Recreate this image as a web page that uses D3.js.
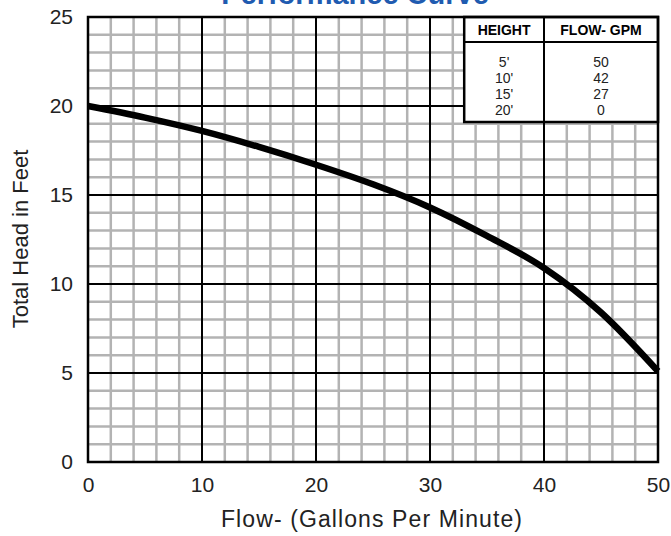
<!DOCTYPE html>
<html>
<head>
<meta charset="utf-8">
<script src="https://cdn.jsdelivr.net/npm/d3@7"></script>
<style>
  body { margin: 0; background: #fff; }
  text { font-family: Arial, "Liberation Sans", sans-serif; }
</style>
</head>
<body>
<svg width="671" height="536"></svg>
<script>
// curve (flow gpm, head ft)
let flow = [0, 5, 10, 15, 20, 25, 30, 35, 40, 45, 50];
let head = [20, 19.35, 18.6, 17.7, 16.7, 15.6, 14.3, 12.7, 10.9, 8.4, 5.1];

let tableHeight = ["5'", "10'", "15'", "20'"];
let tableFlow = ["50", "42", "27", "0"];

let xTicks = [0, 10, 20, 30, 40, 50];
let yTicks = [0, 5, 10, 15, 20, 25];

let svg = d3.select("svg"),
    margin = { top: 17, right: 13, bottom: 74, left: 88 },
    width = 671 - margin.left - margin.right,
    height = 536 - margin.top - margin.bottom;

let x = d3.scaleLinear().domain([0, 50]).range([0, width]);
let y = d3.scaleLinear().domain([0, 25]).range([height, 0]);

// title, mostly cut off at the top
svg.append("text")
    .attr("x", 355)
    .attr("y", 4)
    .attr("text-anchor", "middle")
    .attr("font-size", 29)
    .attr("font-weight", "bold")
    .attr("fill", "#1f5bb0")
    .text("Performance Curve");

let g = svg.append("g")
    .attr("transform", "translate(" + [margin.left, margin.top] + ")");

g.append("rect")
    .attr("width", width)
    .attr("height", height)
    .attr("fill", "#fff");

// minor grid
g.append("g").selectAll("line")
    .data(d3.range(2, 50, 2).filter(v => v % 10 != 0))
    .enter().append("line")
    .attr("x1", d => x(d)).attr("x2", d => x(d))
    .attr("y1", 0).attr("y2", height)
    .attr("stroke", "#b3b3b3").attr("stroke-width", 2.5);

g.append("g").selectAll("line")
    .data(d3.range(1, 25).filter(v => v % 5 != 0))
    .enter().append("line")
    .attr("y1", d => y(d)).attr("y2", d => y(d))
    .attr("x1", 0).attr("x2", width)
    .attr("stroke", "#b3b3b3").attr("stroke-width", 2.5);

// major grid
g.append("g").selectAll("line")
    .data(xTicks.slice(1, -1))
    .enter().append("line")
    .attr("x1", d => x(d)).attr("x2", d => x(d))
    .attr("y1", 0).attr("y2", height)
    .attr("stroke", "#000").attr("stroke-width", 2);

g.append("g").selectAll("line")
    .data(yTicks.slice(1, -1))
    .enter().append("line")
    .attr("y1", d => y(d)).attr("y2", d => y(d))
    .attr("x1", 0).attr("x2", width)
    .attr("stroke", "#000").attr("stroke-width", 2);

// axes (labels only)
let xAxis = g.append("g")
    .attr("transform", "translate(0," + height + ")")
    .call(d3.axisBottom(x).tickValues(xTicks).tickSize(0).tickPadding(15));
let yAxis = g.append("g")
    .call(d3.axisLeft(y).tickValues(yTicks).tickSize(0).tickPadding(15));
[xAxis, yAxis].forEach(a => {
    a.select(".domain").remove();
    a.attr("font-size", 21).attr("font-family", "Arial, 'Liberation Sans', sans-serif");
    a.selectAll("text").attr("fill", "#222");
});

// table
let tx0 = x(33), tx1 = x(40), tx2 = width, ty0 = 0, ty1 = 25, ty2 = 105;
let tbl = g.append("g");
tbl.append("rect")
    .attr("x", tx0).attr("y", ty0)
    .attr("width", tx2 - tx0).attr("height", ty2 - ty0)
    .attr("fill", "#fff").attr("stroke", "#000").attr("stroke-width", 2.5);
tbl.append("line")
    .attr("x1", tx0).attr("x2", tx2).attr("y1", ty1).attr("y2", ty1)
    .attr("stroke", "#000").attr("stroke-width", 2);
tbl.append("line")
    .attr("x1", tx1).attr("x2", tx1).attr("y1", ty0).attr("y2", ty2)
    .attr("stroke", "#000").attr("stroke-width", 2);
tbl.append("text")
    .attr("x", (tx0 + tx1) / 2).attr("y", 18)
    .attr("text-anchor", "middle")
    .attr("font-size", 14).attr("font-weight", "bold")
    .text("HEIGHT");
tbl.append("text")
    .attr("x", (tx1 + tx2) / 2).attr("y", 18)
    .attr("text-anchor", "middle")
    .attr("font-size", 14).attr("font-weight", "bold")
    .text("FLOW- GPM");
tbl.selectAll(".h")
    .data(tableHeight)
    .enter().append("text")
    .attr("x", (tx0 + tx1) / 2)
    .attr("y", (d, i) => 50 + i * 16)
    .attr("text-anchor", "middle")
    .attr("font-size", 14)
    .attr("fill", "#222")
    .text(d => d);
tbl.selectAll(".f")
    .data(tableFlow)
    .enter().append("text")
    .attr("x", (tx1 + tx2) / 2)
    .attr("y", (d, i) => 50 + i * 16)
    .attr("text-anchor", "middle")
    .attr("font-size", 14)
    .attr("fill", "#222")
    .text(d => d);

// border
g.append("rect")
    .attr("width", width)
    .attr("height", height)
    .attr("fill", "none")
    .attr("stroke", "#000")
    .attr("stroke-width", 2.5);

// curve
let line = d3.line()
    .x((d, i) => x(flow[i]))
    .y(d => y(d))
    .curve(d3.curveMonotoneX);
g.append("path")
    .attr("d", line(head))
    .attr("fill", "none")
    .attr("stroke", "#000")
    .attr("stroke-width", 6.5)
    .attr("stroke-linecap", "butt");

// axis titles
svg.append("text")
    .attr("x", 372)
    .attr("y", 527)
    .attr("text-anchor", "middle")
    .attr("font-size", 23)
    .attr("letter-spacing", 1.1)
    .attr("fill", "#222")
    .text("Flow- (Gallons Per Minute)");

svg.append("text")
    .attr("transform", "translate(28,239) rotate(-90)")
    .attr("text-anchor", "middle")
    .attr("font-size", 22)
    .attr("fill", "#222")
    .text("Total Head in Feet");
</script>
</body>
</html>
